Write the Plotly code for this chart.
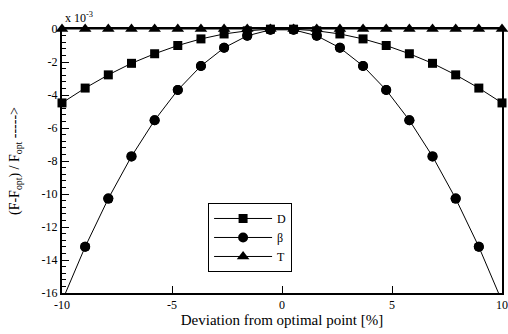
import plotly.graph_objects as go

x_vals = [-10.0, -8.947, -7.895, -6.842, -5.789, -4.737, -3.684, -2.632, -1.579, -0.526,
          0.526, 1.579, 2.632, 3.684, 4.737, 5.789, 6.842, 7.895, 8.947, 10.0]
d_vals = [-4.48, -3.58, -2.78, -2.08, -1.50, -1.00, -0.60, -0.30, -0.11, -0.01,
          -0.01, -0.11, -0.30, -0.60, -1.00, -1.50, -2.08, -2.78, -3.58, -4.48]
beta_vals = [-16.5, -13.2, -10.28, -7.72, -5.53, -3.70, -2.24, -1.14, -0.41, -0.05,
             -0.05, -0.41, -1.14, -2.24, -3.70, -5.53, -7.72, -10.28, -13.2, -16.5]
t_vals = [0.0] * 20

x_ticks = [-10, -5, 0, 5, 10]
x_tick_text = ["-10", "-5", "0", "5", "10"]
y_ticks = [-16, -14, -12, -10, -8, -6, -4, -2, 0]
y_tick_text = ["-16", "-14", "-12", "-10", "-8", "-6", "-4", "-2", "0"]

FONT = "Liberation Serif, Times New Roman, serif"

fig = go.Figure()
fig.add_trace(go.Scatter(x=x_vals, y=d_vals, mode="lines+markers", name="D",
                         line=dict(color="black", width=1),
                         marker=dict(symbol="square", size=9, color="black"),
                         cliponaxis=False))
fig.add_trace(go.Scatter(x=x_vals, y=beta_vals, mode="lines+markers", name="β",
                         line=dict(color="black", width=1),
                         marker=dict(symbol="circle", size=10, color="black"),
                         cliponaxis=True))
fig.add_trace(go.Scatter(x=x_vals[1:-1], y=beta_vals[1:-1], mode="markers", showlegend=False,
                         marker=dict(symbol="circle", size=10, color="black"),
                         cliponaxis=False, hoverinfo="skip"))
fig.add_trace(go.Scatter(x=x_vals, y=t_vals, mode="lines+markers", name="T",
                         line=dict(color="black", width=1),
                         marker=dict(symbol="triangle-up", size=11, color="black"),
                         cliponaxis=False))

fig.update_layout(
    width=508, height=334,
    margin=dict(l=62, r=6, t=29, b=41),
    paper_bgcolor="white", plot_bgcolor="white",
    font=dict(family=FONT, size=12, color="black"),
    showlegend=True,
    legend=dict(x=0.332, y=0.341, xanchor="left", yanchor="top",
                bordercolor="black", borderwidth=1, bgcolor="white",
                font=dict(family=FONT, size=12), tracegroupgap=0,
                itemwidth=58),
    xaxis=dict(range=[-10, 10], tickvals=x_ticks, ticktext=x_tick_text,
               ticks="inside", ticklen=7, tickwidth=1, tickcolor="black",
               showline=True, linecolor="black", linewidth=2, mirror=True,
               showgrid=False, zeroline=False, automargin=False,
               tickfont=dict(family=FONT, size=12),
               title=dict(text="Deviation from optimal point [%]",
                          font=dict(family=FONT, size=15), standoff=1)),
    yaxis=dict(range=[-16, 0], tickvals=y_ticks, ticktext=y_tick_text,
               ticks="inside", ticklen=7, tickwidth=1, tickcolor="black",
               minor=dict(dtick=0.4, ticks="inside", ticklen=4, tickwidth=1, tickcolor="black"),
               showline=True, linecolor="black", linewidth=2, mirror=True,
               showgrid=False, zeroline=False, automargin=False,
               tickfont=dict(family=FONT, size=12),
               title=dict(text="(F-F<sub>opt</sub>) / F<sub>opt</sub> ----->",
                          font=dict(family=FONT, size=14), standoff=19)),
)
fig.add_annotation(x=0, y=1, xref="paper", yref="paper", xanchor="left", yanchor="bottom",
                   xshift=1, yshift=2, showarrow=False,
                   text="x 10<sup>-3</sup>", font=dict(family=FONT, size=12))

fig.write_html("out.html", config={"displayModeBar": False},
               post_script="document.body.style.margin='0';document.body.style.overflow='hidden';")
